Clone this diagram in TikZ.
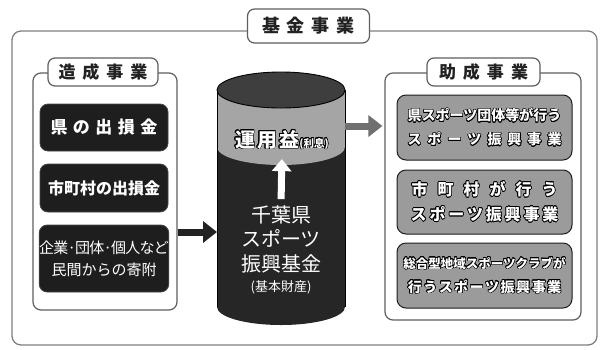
\documentclass[tikz,border=0pt]{standalone}
\usepackage{fontspec}
\setmainfont{Noto Sans CJK JP}
\usepackage[copies]{contour}
\contourlength{0.6pt}
\contournumber{20}
\usetikzlibrary{arrows.meta, calc}
\definecolor{rim}{RGB}{128, 128, 128}
\definecolor{dim}{RGB}{95, 95, 95}
\definecolor{ink}{RGB}{34, 34, 34}
\definecolor{coal}{RGB}{30, 30, 30}
\definecolor{ash}{RGB}{70, 70, 70}
\definecolor{stone}{RGB}{155, 155, 155}
\definecolor{drum}{RGB}{38, 38, 38}
\definecolor{lid}{RGB}{62, 62, 62}
\definecolor{band}{RGB}{165, 165, 165}
\definecolor{outarrow}{RGB}{112, 112, 112}

% letters with a fixed gap between them
\protected\def\spaced#1#2{\def\spgap{#1}\sploop#2\relax}
\def\sploop#1{#1\futurelet\spnext\spcheck}
\def\spcheck{\ifx\spnext\relax\expandafter\spstop\else\hskip\spgap\relax\expandafter\sploop\fi}
\def\spstop\relax{}

\begin{document}
\begin{tikzpicture}[x=1pt, y=-1pt,
  frame/.style={draw=rim, line width=1.3pt, rounded corners=9pt, fill=white},
  subframe/.style={draw=dim, line width=1.2pt, rounded corners=8pt, fill=white},
  heading/.style={draw=dim, line width=1.2pt, rounded corners=7pt, fill=white,
    text=ink, inner sep=0pt},
  donor/.style={fill=coal, draw=ash, line width=0.8pt, rounded corners=8pt,
    text=white, align=center, inner sep=0pt, minimum width=128pt},
  grant/.style={fill=stone, draw=coal, line width=1pt, rounded corners=9pt,
    text=white, align=center, inner sep=0pt, minimum width=175pt},
  flow/.style={-{Triangle[width=21pt, length=14pt]}, line width=7pt}]
  \useasboundingbox (0, 0) rectangle (605, 349);

  \node[frame, minimum width=585pt, minimum height=314pt] (kikin) at (304.5, 188) {};
  \node[heading, minimum width=122pt, minimum height=34pt,
    font=\bfseries\fontsize{18}{20}\selectfont] (kikintitle) at (308.5, 26) {\spaced{7pt}{基金事業}};

  % left side
  \node[subframe, minimum width=144pt, minimum height=237pt] (zosei) at (105, 191.5) {};
  \node[heading, minimum width=110pt, minimum height=28pt,
    font=\bfseries\fontsize{17}{20}\selectfont] (zoseititle) at (103, 72) {\spaced{7pt}{造成事業}};
  \node[donor, minimum height=47pt, font=\bfseries\fontsize{17}{20}\selectfont]
    (ken) at (104, 127.5) {\spaced{5.5pt}{県の出損金}};
  \node[donor, minimum height=48pt, font=\bfseries\fontsize{16}{20}\selectfont]
    (shichoson) at (104, 188) {市町村の出損金};
  \node[donor, minimum height=67pt, font=\fontsize{15}{22}\selectfont]
    (kifu) at (104, 258.5) {\spaced{-0.8pt}{企業·団体·個人など}\\民間からの寄附};

  % right side
  \node[subframe, minimum width=196pt, minimum height=247pt] (josei) at (483, 196.5) {};
  \node[heading, minimum width=113pt, minimum height=28pt,
    font=\bfseries\fontsize{17}{20}\selectfont] (joseititle) at (483.5, 72) {\spaced{7pt}{助成事業}};
  \node[grant, minimum height=65pt, font=\bfseries\fontsize{14}{24}\selectfont]
    (dantai) at (484.5, 127.5) {\contour{black}{県スポーツ団体等が行う}\\\contour{black}{\spaced{6pt}{スポーツ振興事業}}};
  \node[grant, minimum height=64pt, font=\bfseries\fontsize{16}{25}\selectfont]
    (shien) at (484.5, 202) {\contour{black}{\spaced{10pt}{市町村が行う}}\\\contour{black}{\spaced{2.8pt}{スポーツ振興事業}}};
  \node[grant, minimum height=65pt, font=\bfseries\fontsize{12.5}{24}\selectfont]
    (club) at (484.5, 275.5) {\contour{black}{総合型地域スポーツクラブが}\\\contour{black}{\fontsize{14}{24}\selectfont\spaced{1.5pt}{行うスポーツ振興事業}}};

  % the fund drum
  \fill[drum] (217, 90) rectangle (345, 307);
  \fill[drum] (281, 307) ellipse (64 and 18);
  \fill[band] (217, 90) rectangle (345, 147);
  \fill[band] (281, 147) ellipse (64 and 18);
  \draw[black, line width=0.8pt] (217, 90) -- (217, 307) (345, 90) -- (345, 307);
  \filldraw[fill=lid, draw=black, line width=0.9pt] (281, 90) ellipse (64 and 18);

  \node[text=white, font=\bfseries\fontsize{20}{22}\selectfont, inner sep=0pt]
    (yield) at (282, 140) {\contour{black}{\spaced{2pt}{運用益}{\fontsize{10.5}{12}\selectfont(利息)}}};
  \node[text=white, align=center, font=\fontsize{20}{24.5}\selectfont, inner sep=0pt]
    (base) at (281, 239) {千葉県\\スポーツ\\振興基金};
  \node[text=white, font=\fontsize{13}{15}\selectfont, inner sep=0pt]
    (zaisan) at (281, 287) {(基本財産)};
  \draw[white, -{Triangle[width=19pt, length=12pt]}, line width=7pt,
    shorten <=6pt, shorten >=9pt] (base.north) -- (yield.south);

  \coordinate (drumin) at (217, 232);
  \coordinate (drumout) at (345, 126);
  \draw[flow, color=ink] (zosei.east |- drumin) -- (drumin);
  \draw[flow, color=outarrow] (drumout) -- ($(drumout -| josei.west) + (-2, 0)$);
\end{tikzpicture}
\end{document}
